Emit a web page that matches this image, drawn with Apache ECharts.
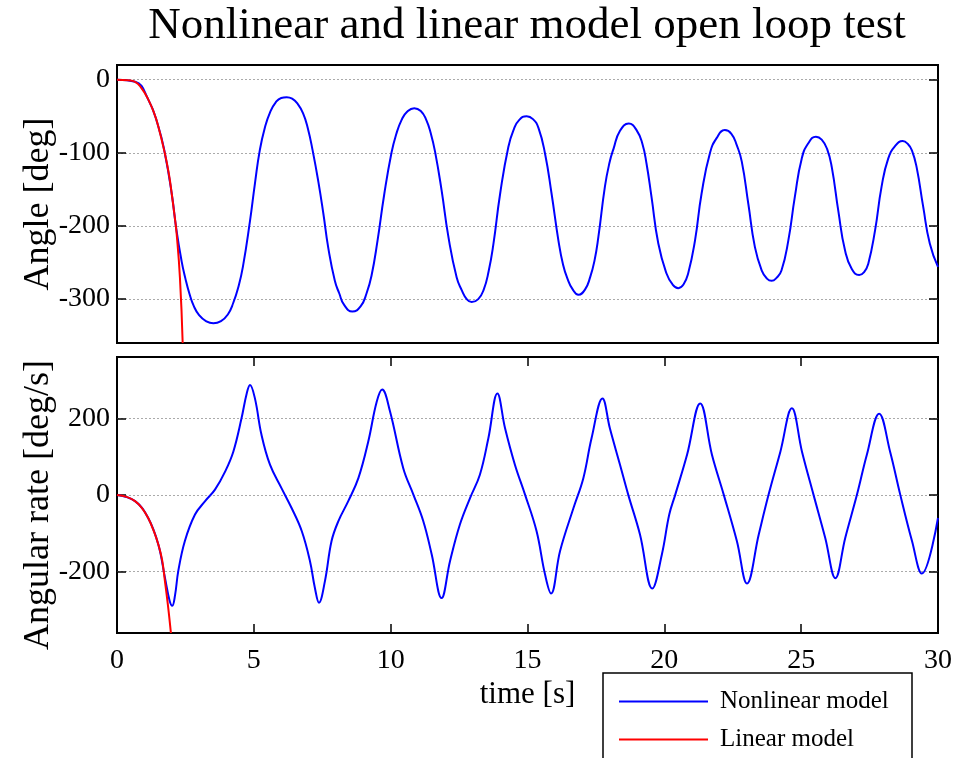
<!DOCTYPE html>
<html>
<head>
<meta charset="utf-8">
<title>Nonlinear and linear model open loop test</title>
<script src="https://cdn.jsdelivr.net/npm/echarts@6/dist/echarts.min.js"></script>
<style>
  html, body { margin: 0; padding: 0; background: #fff; }
  #main { width: 955px; height: 758px; }
</style>
</head>
<body>
<div id="main"></div>
<script>
// [time s, value] pairs
const angleNonlinear = [
  [0, 0], [0.66, -3], [1.14, -27], [1.51, -64], [1.75, -101], [2.0, -156], [2.17, -205], [2.36, -248], [2.5, -272], [2.65, -293],
  [2.8, -309], [3.0, -322], [3.25, -330], [3.52, -333], [3.8, -330], [4.05, -321], [4.25, -305], [4.43, -284], [4.6, -256], [4.86, -193],
  [5.04, -142], [5.22, -96], [5.4, -66], [5.6, -44], [5.8, -31], [6.0, -25], [6.2, -24], [6.4, -26], [6.6, -33], [6.8, -46],
  [6.97, -66], [7.15, -97], [7.36, -140], [7.54, -183], [7.72, -230], [7.96, -275], [8.12, -292], [8.3, -308], [8.6, -317], [8.9, -310],
  [9.12, -292], [9.3, -268], [9.52, -220], [9.76, -158], [10.03, -100], [10.2, -75], [10.4, -55], [10.6, -44], [10.86, -39], [11.1, -43],
  [11.3, -55], [11.47, -74], [11.62, -98], [11.86, -151], [12.11, -215], [12.41, -270], [12.6, -288], [12.78, -300], [12.96, -304], [13.2, -300],
  [13.4, -287], [13.58, -262], [13.75, -226], [14.0, -156], [14.3, -92], [14.5, -68], [14.7, -55], [14.97, -50], [15.2, -54], [15.4, -66],
  [15.64, -101], [15.88, -156], [16.13, -220], [16.3, -253], [16.46, -272], [16.64, -286], [16.86, -294], [17.1, -287], [17.29, -270], [17.45, -247],
  [17.59, -215], [17.83, -146], [18.0, -113], [18.14, -95], [18.38, -70], [18.7, -60], [19.0, -70], [19.2, -88], [19.35, -115], [19.53, -160],
  [19.78, -224], [20.08, -265], [20.3, -280], [20.51, -285], [20.7, -280], [20.87, -265], [21.12, -220], [21.36, -156], [21.67, -100], [21.91, -80],
  [22.21, -69], [22.45, -74], [22.65, -90], [22.83, -112], [23.07, -170], [23.31, -229], [23.56, -261], [23.75, -272], [23.92, -275], [24.1, -271],
  [24.28, -261], [24.53, -220], [24.77, -160], [25.02, -108], [25.26, -87], [25.54, -78], [25.75, -82], [25.95, -95], [26.12, -120], [26.36, -180],
  [26.6, -233], [26.85, -259], [27.12, -267], [27.3, -263], [27.45, -252], [27.7, -206], [27.94, -146], [28.18, -108], [28.43, -91], [28.71, -84],
  [28.9, -88], [29.05, -97], [29.22, -120], [29.46, -174], [29.7, -224], [30, -256]
];
const angleLinear = [
  [0, 0], [0.4, -1], [0.66, -3], [0.9, -12], [1.14, -27], [1.35, -45], [1.51, -64], [1.75, -101], [1.9, -130], [2.0, -156],
  [2.1, -185], [2.18, -211], [2.3, -271], [2.4, -360]
];
const rateNonlinear = [
  [0, 0], [0.66, -16], [1.14, -60], [1.51, -129], [1.75, -215], [1.92, -275], [2.02, -289], [2.12, -262], [2.24, -198], [2.48, -120],
  [2.85, -51], [3.22, -16], [3.58, 14], [3.95, 61], [4.25, 113], [4.55, 200], [4.74, 265], [4.86, 287], [5.04, 252], [5.28, 157],
  [5.59, 79], [6.01, 18], [6.38, -34], [6.75, -94], [7.05, -172], [7.23, -242], [7.38, -281], [7.6, -224], [7.84, -120], [8.09, -68],
  [8.45, -16], [8.82, 44], [9.18, 139], [9.49, 243], [9.69, 275], [9.97, 220], [10.46, 70], [10.83, 1], [11.19, -68], [11.5, -155],
  [11.86, -269], [12.17, -172], [12.53, -77], [12.9, -8], [13.26, 53], [13.57, 148], [13.9, 265], [14.18, 174], [14.54, 79], [14.91, 1],
  [15.33, -94], [15.64, -207], [15.86, -257], [16.19, -146], [16.68, -34], [17.04, 44], [17.34, 148], [17.74, 252], [18.01, 174], [18.38, 79],
  [18.68, 1], [19.11, -103], [19.56, -244], [19.91, -155], [20.18, -51], [20.4, 1], [20.83, 105], [21.31, 239], [21.74, 105], [22.17, 1],
  [22.65, -120], [23.02, -231], [23.45, -103], [23.81, 1], [24.24, 113], [24.66, 226], [25.03, 113], [25.45, 1], [25.88, -112], [26.25, -217],
  [26.61, -112], [27.04, 1], [27.4, 105], [27.85, 212], [28.25, 113], [28.62, 1], [29.05, -120], [29.41, -205], [30, -60]
];
const rateLinear = [
  [0, 0], [0.35, -5], [0.66, -16], [0.9, -33], [1.14, -60], [1.35, -95], [1.51, -129], [1.65, -170], [1.75, -224], [1.87, -293],
  [1.97, -360]
];
const angleTicks = [-300, -200, -100, 0];
const rateTicks = [-200, 0, 200];
const seriesNames = ['Nonlinear model', 'Linear model'];

const FONT = 'Liberation Serif';
const chart = echarts.init(document.getElementById('main'), null, { renderer: 'canvas' });

const gridBase = { left: 117, right: 17, show: true, borderColor: '#000', borderWidth: 2, containLabel: false, outerBoundsMode: 'none' };
const tickStyle = { show: true, inside: true, length: 9, lineStyle: { color: '#000', width: 1.5 } };
const gridLine = { show: true, lineStyle: { color: '#aaa', width: 1, type: [2, 2] } };

function yAxisPair(gridIndex, min, max, ticks, name, namePadding) {
  return [
    {
      type: 'value', gridIndex, min, max, position: 'left',
      axisLine: { show: false, onZero: false },
      axisTick: Object.assign({ customValues: ticks }, tickStyle),
      axisLabel: { customValues: ticks, color: '#000', fontFamily: FONT, fontSize: 28, margin: 7 },
      splitLine: gridLine,
      name, nameLocation: 'middle', nameGap: 60, nameMoveOverlap: false,
      nameTextStyle: { color: '#000', fontFamily: FONT, fontSize: 36, padding: namePadding }
    },
    {
      type: 'value', gridIndex, min, max, position: 'right',
      axisLine: { show: false, onZero: false },
      axisTick: Object.assign({ customValues: ticks }, tickStyle),
      axisLabel: { show: false, customValues: ticks },
      splitLine: { show: false }
    }
  ];
}

const option = {
  animation: false,
  backgroundColor: '#fff',
  title: {
    text: 'Nonlinear and linear model open loop test',
    left: 527, top: 4, padding: 0, textAlign: 'center',
    textStyle: { color: '#000', fontFamily: FONT, fontSize: 45, fontWeight: 'normal' }
  },
  legend: {
    data: seriesNames,
    orient: 'vertical',
    left: 605, top: 677,
    padding: [12, 14, 0, 14],
    itemWidth: 89, itemHeight: 2, itemGap: 13,
    icon: 'rect',
    textStyle: { color: '#000', fontFamily: FONT, fontSize: 25, padding: [0, 0, 0, 7] }
  },
  graphic: [
    {
      type: 'rect', z: -1,
      shape: { x: 603, y: 673, width: 309, height: 100 },
      style: { fill: '#fff', stroke: '#000', lineWidth: 1.5 }
    }
  ],
  grid: [
    Object.assign({ top: 65, height: 278 }, gridBase),
    Object.assign({ top: 357, height: 276 }, gridBase)
  ],
  xAxis: [
    {
      type: 'value', gridIndex: 0, min: 0, max: 30, interval: 5,
      axisLine: { show: false, onZero: false }, axisTick: { show: false },
      axisLabel: { show: false }, splitLine: { show: false }
    },
    {
      type: 'value', gridIndex: 1, min: 0, max: 30, interval: 5, position: 'bottom',
      axisLine: { show: false, onZero: false }, axisTick: tickStyle,
      axisLabel: { color: '#000', fontFamily: FONT, fontSize: 28, margin: 14 },
      splitLine: { show: false },
      name: 'time [s]', nameLocation: 'middle', nameGap: 46,
      nameTextStyle: { color: '#000', fontFamily: FONT, fontSize: 31 }
    },
    {
      type: 'value', gridIndex: 1, min: 0, max: 30, interval: 5, position: 'top',
      axisLine: { show: false, onZero: false }, axisTick: tickStyle,
      axisLabel: { show: false }, splitLine: { show: false }
    }
  ],
  yAxis: [].concat(
    yAxisPair(0, -360, 20, angleTicks, 'Angle [deg]', 0),
    yAxisPair(1, -360, 360, rateTicks, 'Angular rate [deg/s]', [0, 20, 0, 0])
  ),
  series: [
    {
      name: seriesNames[0], type: 'line', xAxisIndex: 0, yAxisIndex: 0,
      data: angleNonlinear, smooth: 0.5, symbol: 'none',
      lineStyle: { color: '#0000ff', width: 2 }, itemStyle: { color: '#0000ff' }
    },
    {
      name: seriesNames[1], type: 'line', xAxisIndex: 0, yAxisIndex: 0,
      data: angleLinear, smooth: 0.5, symbol: 'none',
      lineStyle: { color: '#ff0000', width: 2 }, itemStyle: { color: '#ff0000' }
    },
    {
      name: seriesNames[0], type: 'line', xAxisIndex: 1, yAxisIndex: 2,
      data: rateNonlinear, smooth: 0.4, symbol: 'none',
      lineStyle: { color: '#0000ff', width: 2 }, itemStyle: { color: '#0000ff' }
    },
    {
      name: seriesNames[1], type: 'line', xAxisIndex: 1, yAxisIndex: 2,
      data: rateLinear, smooth: 0.4, symbol: 'none',
      lineStyle: { color: '#ff0000', width: 2 }, itemStyle: { color: '#ff0000' }
    }
  ]
};

chart.setOption(option);
</script>
</body>
</html>
